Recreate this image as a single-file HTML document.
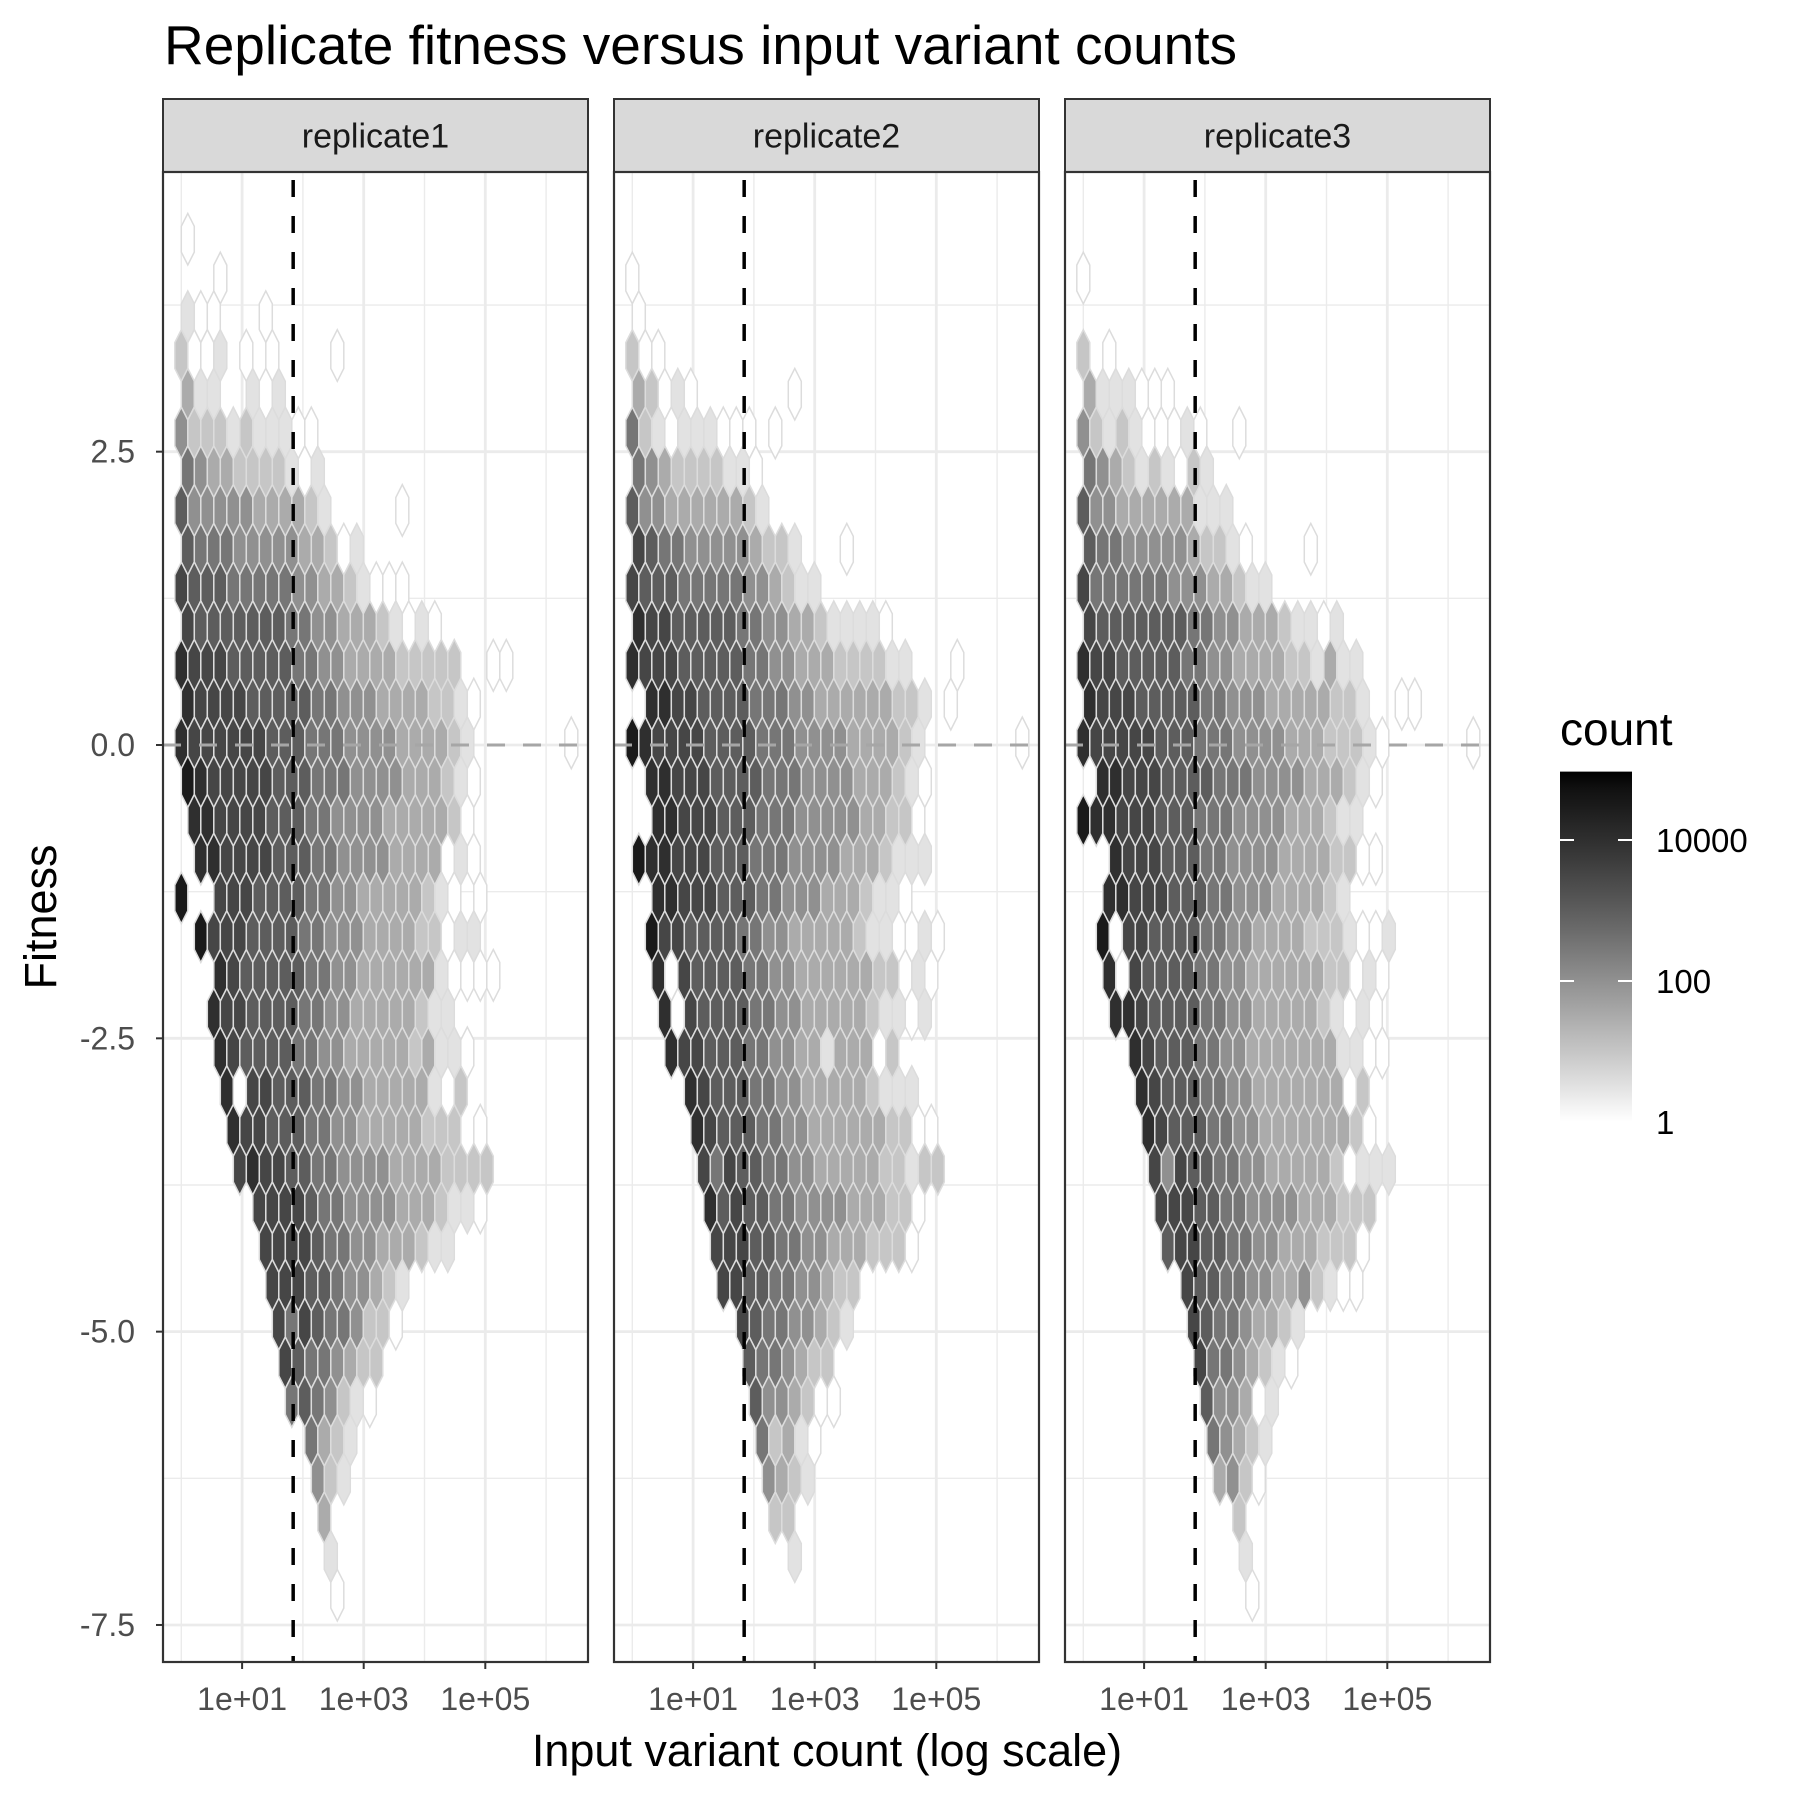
<!DOCTYPE html>
<html><head><meta charset="utf-8"><title>Replicate fitness versus input variant counts</title>
<style>html,body{margin:0;padding:0;background:#fff}svg{display:block}text{font-family:"Liberation Sans",Arial,sans-serif}</style>
</head><body>
<svg id="chart" xmlns="http://www.w3.org/2000/svg" width="1800" height="1800" viewBox="0 0 1800 1800">
<rect width="1800" height="1800" fill="#fff"/>
<text x="164" y="64" font-size="55" fill="#000">Replicate fitness versus input variant counts</text>
<g id="panels"></g>
<text x="827" y="1766" font-size="45" text-anchor="middle" fill="#000">Input variant count (log scale)</text>
<text transform="translate(44,917) rotate(-90)" font-size="45" text-anchor="middle" dominant-baseline="middle" fill="#000">Fitness</text>
<g id="legend"></g>
</svg>
<script>
// ---- data ----
const facetNames = ["replicate1", "replicate2", "replicate3"];
const yTickValues = [2.5, 0, -2.5, -5, -7.5];
const yTickLabels = ["2.5", "0.0", "-2.5", "-5.0", "-7.5"];
const xTickValues = [1, 3, 5];
const xTickLabels = ["1e+01", "1e+03", "1e+05"];
const legendTickValues = [0, 2, 4];
const legendTickLabels = ["1", "100", "10000"];
const cutoffLog10 = 1.84;
const rowIndex = [13,12,11,10,9,8,7,6,5,4,3,2,1,0,-1,-2,-3,-4,-5,-6,-7,-8,-9,-10,-11,-12,-13,-14,-15,-16,-17,-18,-19,-20,-21,-22];
// each char = binned count level (log10 count = level*0.5), '.' = empty bin
const rep1Rows = ["0","...0","100...0","2001.0.0....0","311..101","42221211100","54332222101","644444333321.....0","65554444433201","766655555443321000","76666666554433321010","8777666665544333322222..00","87777666665544433332210","87777776665554444333321.......0","98777776665554444333210",".8877776665544443333320",".8877776665544443333010","9..7776666554433333210.0",".9777666655444333322011","...8766666554433333310000","..8776666554433333211","...87666655443333323110","...8077666554433333102","....877666554433333222.0","....78776655444433332222","......777765544443332110","......777765544333211",".......77766544321",".......7576554220","........76554322","........5654210","..........5321","..........421","...........3","...........1","............0"];
const rep2Rows = ["","0","0","200","32010.......0","5210111000.0","5432222110","64433333321","7655444443221...0","766655555443211","87766666554433211110","8777666665544333222211...0",".8877666655544333333221.0","98777766665554444333321.......0",".8877766665554444333210","..887776665554444433220","98877766655544443332111","..88777666554443332110",".97766665544333332110010","..8076666554433333322010","..807666655443333321101","...877666554433133302","....876665544333332111",".....8766655443333332200",".....7576655443333322122","......86766554444333220","......7776655443332220",".......77665544322","........765544321",".........6554322",".........6443200","..........52310","..........4321","...........22","............1",""];
const rep3Rows = ["","0","","2.0","3111000","4212100010..0","5432121021","644333333111","6554444432210....0","755555544433211","76666666554433321101","8776666655443333221311","8777666665544433333221..00","877777666555444433322210......0",".8877766665554444333210","9887776665554444333211","..877766655444433332200","..8877766655444333321",".90776666554433332221001","..8076666554433333322010","..887666655443333321010","....87666554433333331100","....876665544333333302",".....876665544333333320",".....7476655443333320111","......77766554444333222","......6776655443332220","........76655443342100","........765543321",".........75543210",".........644301","..........54321","..........3420","............2","............1",".............0"];
const panelRows = [rep1Rows, rep2Rows, rep3Rows];

// ---- geometry ----
const NS = "http://www.w3.org/2000/svg";
const panelLefts = [163, 614, 1065];
const panelW = 425, panelTop = 172, panelBot = 1662, stripTop = 99;
const binX = 0.2138, binY = 0.3302, rowOffset = 0.018;
const hexW = 13, hexH = 51.6;
function xScale(p, lg) { return panelLefts[p] + 18.3 + 60.8 * lg; }
function yScale(v) { return 745 - 117.33 * v; }
const maxLog = 4.97;
function levelColor(logc) {
  let t = Math.max(0, Math.min(1, logc / maxLog));
  let L = 100 * (1 - t);
  let Y = L > 8 ? Math.pow((L + 16) / 116, 3) : L / 903.3;
  let c = Y <= 0.0031308 ? 12.92 * Y : 1.055 * Math.pow(Y, 1 / 2.4) - 0.055;
  let g = Math.round(255 * c);
  return "rgb(" + g + "," + g + "," + g + ")";
}
function mk(tag, attrs, parent) {
  const e = document.createElementNS(NS, tag);
  for (const k in attrs) e.setAttribute(k, attrs[k]);
  parent.appendChild(e); return e;
}
const root = document.getElementById("panels");
for (let p = 0; p < 3; p++) {
  const L = panelLefts[p], R = L + panelW;
  const g = mk("g", {}, root);
  
  
  const strip = mk("rect", {x: L, y: stripTop, width: panelW, height: panelTop - stripTop, fill: "#d9d9d9", stroke: "#333", "stroke-width": 2}, g);
  
  
  const st = mk("text", {x: L + panelW / 2, y: (stripTop + panelTop) / 2 + 12, "font-size": 34, "text-anchor": "middle", fill: "#1a1a1a"}, g);
  st.textContent = facetNames[p];
  
  
  const minorY = [3.75, 1.25, -1.25, -3.75, -6.25];
  minorY.forEach(v => { const l = mk("line", {x1: L, x2: R, y1: yScale(v), y2: yScale(v), stroke: "#ebebeb", "stroke-width": 1.4}, g);   });
  [0, 2, 4, 6].forEach(v => { const l = mk("line", {x1: xScale(p, v), x2: xScale(p, v), y1: panelTop, y2: panelBot, stroke: "#ebebeb", "stroke-width": 1.4}, g);   });
  yTickValues.forEach(v => { const l = mk("line", {x1: L, x2: R, y1: yScale(v), y2: yScale(v), stroke: "#ebebeb", "stroke-width": 2.8}, g);   });
  xTickValues.forEach(v => { const l = mk("line", {x1: xScale(p, v), x2: xScale(p, v), y1: panelTop, y2: panelBot, stroke: "#ebebeb", "stroke-width": 2.8}, g);   });
  const rows = panelRows[p];
  for (let r = 0; r < rowIndex.length; r++) {
    const n = rowIndex[r], s = rows[r] || "";
    const odd = Math.abs(n) % 2 === 1;
    const cy = yScale(rowOffset + n * binY);
    for (let k = 0; k < s.length; k++) {
      const ch = s[k];
      if (ch < "0" || ch > "9") continue;
      const cx = xScale(p, (k + (odd ? 0.5 : 0)) * binX);
      const w = hexW / 2, h = hexH / 2, q = hexH / 4;
      const pts = [[cx, cy - h], [cx + w, cy - q], [cx + w, cy + q], [cx, cy + h], [cx - w, cy + q], [cx - w, cy - q]].map(a => a[0].toFixed(1) + "," + a[1].toFixed(1)).join(" ");
      const hx = mk("polygon", {points: pts, fill: levelColor(parseInt(ch) * 0.5), stroke: "#dcdcdc", "stroke-width": 1.5}, g);
      
      
    }
  }
  const z = mk("line", {x1: L, x2: R, y1: yScale(0), y2: yScale(0), stroke: "#a6a6a6", "stroke-width": 3, "stroke-dasharray": "18 18"}, g);
  
  
  const c = mk("line", {x1: xScale(p, cutoffLog10), x2: xScale(p, cutoffLog10), y1: panelTop + 8, y2: panelBot, stroke: "#000", "stroke-width": 3.5, "stroke-dasharray": "17 19"}, g);
  
  
  const b = mk("rect", {x: L, y: panelTop, width: panelW, height: panelBot - panelTop, fill: "none", stroke: "#333", "stroke-width": 2.2}, g);
  
  
  xTickValues.forEach((v, i) => {
    const x = xScale(p, v);
    const t = mk("line", {x1: x, x2: x, y1: panelBot, y2: panelBot + 7, stroke: "#333", "stroke-width": 2}, g);
    
    
    const tl = mk("text", {x: x, y: panelBot + 48, "font-size": 32, "text-anchor": "middle", fill: "#4d4d4d"}, g);
    tl.textContent = xTickLabels[i];
    
    
  });
  if (p === 0) {
    yTickValues.forEach((v, i) => {
      const y = yScale(v);
      const t = mk("line", {x1: L - 7, x2: L, y1: y, y2: y, stroke: "#333", "stroke-width": 2}, g);
      
      
      const tl = mk("text", {x: L - 28, y: y + 11, "font-size": 32, "text-anchor": "end", fill: "#4d4d4d"}, g);
      tl.textContent = yTickLabels[i];
      
      
    });
  }
}
const lg = document.getElementById("legend");
const lt = mk("text", {x: 1560, y: 745, "font-size": 46, fill: "#000"}, lg);
lt.textContent = "count";


const barL = 1560, barR = 1632;
function legY(lgv) { return 1122 - 70.5 * lgv; }
const defs = mk("defs", {}, lg);
const grad = mk("linearGradient", {id: "cbar", x1: 0, y1: 1, x2: 0, y2: 0}, defs);
for (let i = 0; i <= 20; i++) {
  mk("stop", {offset: (i / 20), "stop-color": levelColor(maxLog * i / 20)}, grad);
}
const bar = mk("rect", {x: barL, y: legY(maxLog), width: barR - barL, height: legY(0) - legY(maxLog), fill: "url(#cbar)"}, lg);


legendTickValues.forEach((v, i) => {
  const y = legY(v);
  const a = mk("line", {x1: barL, x2: barL + 14, y1: y, y2: y, stroke: "#fff", "stroke-width": 2}, lg);
  
  
  const b2 = mk("line", {x1: barR - 14, x2: barR, y1: y, y2: y, stroke: "#fff", "stroke-width": 2}, lg);
  
  
  const t = mk("text", {x: 1656, y: y + 12, "font-size": 33, fill: "#000"}, lg);
  t.textContent = legendTickLabels[i];
  
  
});
</script>
</body></html>
